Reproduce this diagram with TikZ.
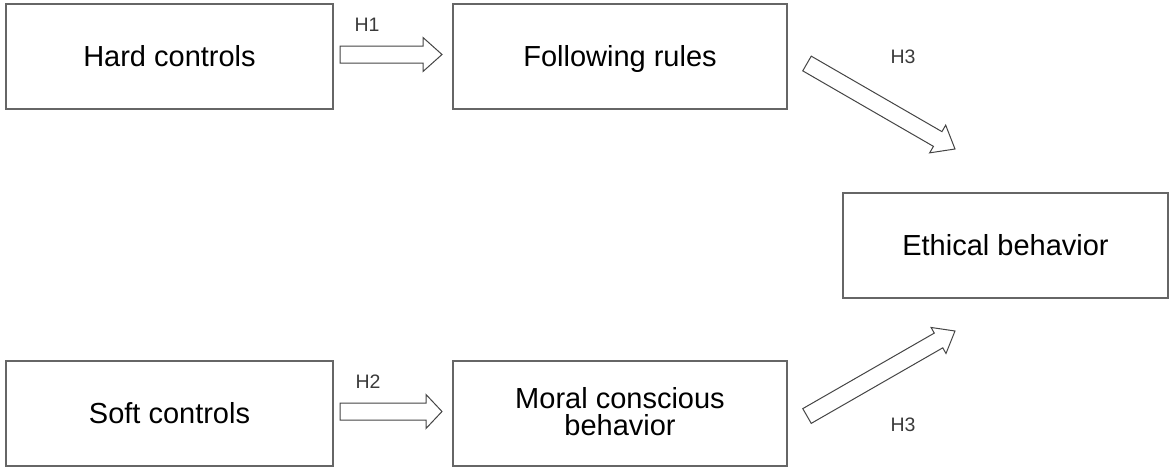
\documentclass[tikz,border=0pt]{standalone}
\usepackage{fontspec}
\setmainfont{Liberation Sans}
\usetikzlibrary{calc}
\definecolor{boxline}{HTML}{666666}
\definecolor{arrline}{HTML}{454545}
\definecolor{lblcol}{HTML}{3A3A3A}
\newcommand\blockarr[4]{% tail, tip, head length, head half width
  \coordinate (bh) at ($(#2)!#3!(#1)$);
  \draw[barrow] ($(#1)!8.5pt!90:(#2)$) -- ($(bh)!8.5pt!-90:(#1)$) -- ($(bh)!#4!-90:(#1)$) -- (#2)
    -- ($(bh)!#4!90:(#1)$) -- ($(bh)!8.5pt!90:(#1)$) -- ($(#1)!8.5pt!-90:(#2)$) -- cycle;}
\tikzset{
  box/.style={draw=boxline, line width=1.4pt, rectangle, minimum height=105pt, align=center,
    font=\fontsize{29}{27}\selectfont, inner sep=0pt, text height=20.5pt, text depth=0pt},
  barrow/.style={draw=arrline, line width=1pt, fill=white, line join=miter},
  hlabel/.style={text=lblcol, font=\fontsize{19.5}{19}\selectfont, inner sep=0pt}
}
\begin{document}
\begin{tikzpicture}[x=1pt,y=-1pt]
\useasboundingbox (0,0) rectangle (1171,469);
\node[box, minimum width=327pt] (hard) at (169.5,56.5) {Hard controls};
\node[box, minimum width=334pt] (follow) at (620,56.5) {Following rules};
\node[box, minimum width=327pt] (soft) at (169.5,413.5) {Soft controls};
\node[box, minimum width=334pt, text height=44pt] (moral) at (620,413.5) {Moral conscious\\behavior};
\node[box, minimum width=325pt] (ethic) at (1005.5,245.5) {Ethical behavior};

\coordinate (h1s) at (340,54.5);
\coordinate (h1e) at (442,54.5);
\coordinate (h2s) at (340,411.5);
\coordinate (h2e) at (442,411.5);
\coordinate (h3as) at (807,63.5);
\coordinate (h3ae) at (955,149);
\coordinate (h3bs) at (807,416);
\coordinate (h3be) at (955,331);

\blockarr{h1s}{h1e}{19pt}{17pt}
\blockarr{h2s}{h2e}{16pt}{17pt}
\blockarr{h3as}{h3ae}{20pt}{16pt}
\blockarr{h3bs}{h3be}{19pt}{15pt}

\node[hlabel] (l1) at (367,25) {H1};
\node[hlabel] (l2) at (368,382) {H2};
\node[hlabel] (l3a) at (903,57) {H3};
\node[hlabel] (l3b) at (903,425) {H3};
\end{tikzpicture}
\end{document}
